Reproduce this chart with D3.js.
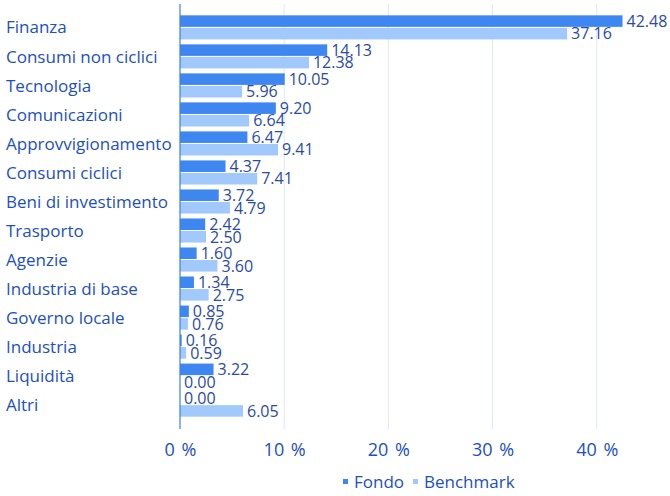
<!doctype html>
<html>
  <head>
    <meta charset="utf-8">
    <title>Settori</title>
    <script src="https://cdnjs.cloudflare.com/ajax/libs/d3/7.8.5/d3.min.js"></script>
    <style>
      body { margin: 0; background: #fff; }
      text { font-family: "Open Sans", sans-serif; }
    </style>
  </head>
  <body>
    <div id="chart"></div>
    <script>
      // data
      const categories = ['Finanza', 'Consumi non ciclici', 'Tecnologia', 'Comunicazioni',
        'Approvvigionamento', 'Consumi ciclici', 'Beni di investimento', 'Trasporto',
        'Agenzie', 'Industria di base', 'Governo locale', 'Industria', 'Liquidità', 'Altri']
      const fondo = [42.48, 14.13, 10.05, 9.20, 6.47, 4.37, 3.72, 2.42, 1.60, 1.34, 0.85, 0.16, 3.22, 0.00]
      const benchmark = [37.16, 12.38, 5.96, 6.64, 9.41, 7.41, 4.79, 2.50, 3.60, 2.75, 0.76, 0.59, 0.00, 6.05]
      const seriesNames = ['Fondo', 'Benchmark']
      const ticks = [0, 10, 20, 30, 40]

      const colors = ['#3f87f0', '#a2c9fb']
      const labelColor = '#1c4fc2'
      const valueColor = '#2a4aa6'

      const svg = d3.select('#chart').append('svg')
        .attr('width', 670)
        .attr('height', 496)

      const x = d3.scaleLinear().domain([0, 40]).range([180, 596.7])
      const y = d3.scaleBand().domain(categories).range([13, 419]).paddingInner(0.17).paddingOuter(0.08)
      const ySub = d3.scaleBand().domain(seriesNames).range([0, y.bandwidth()]).paddingInner(0.08)

      // grid
      svg.append('g').selectAll('line')
        .data(ticks.slice(1))
        .join('line')
        .attr('x1', d => x(d)).attr('x2', d => x(d))
        .attr('y1', 4).attr('y2', 429)
        .attr('stroke', '#dce8fb')
        .attr('stroke-width', 1)

      // x axis labels
      const xAxis = d3.axisBottom(x).tickValues(ticks).tickSize(0).tickFormat(d => d + ' %')
      svg.append('g')
        .attr('transform', 'translate(0,440)')
        .call(xAxis)
        .call(g => g.select('.domain').remove())
        .selectAll('text')
        .attr('fill', labelColor)
        .style('font-size', '18px')
        .style('word-spacing', '2px')

      // bars
      const groups = svg.append('g').selectAll('g')
        .data(categories)
        .join('g')
        .attr('transform', d => `translate(0,${y(d)})`)

      const rows = groups.selectAll('g')
        .data((d, i) => [{ s: 'Fondo', v: fondo[i] }, { s: 'Benchmark', v: benchmark[i] }])
        .join('g')

      rows.append('rect')
        .attr('x', x(0))
        .attr('y', d => ySub(d.s))
        .attr('width', d => x(d.v) - x(0))
        .attr('height', ySub.bandwidth())
        .attr('fill', (d, i) => colors[i])

      rows.append('text')
        .attr('x', d => x(d.v) + 4)
        .attr('y', d => ySub(d.s) + ySub.bandwidth() / 2)
        .attr('dy', '0.36em')
        .attr('fill', valueColor)
        .style('font-size', '16px')
        .text(d => d.v.toFixed(2))

      // category labels
      svg.append('g').selectAll('text')
        .data(categories)
        .join('text')
        .attr('x', 6)
        .attr('y', d => y(d) + y.bandwidth() / 2)
        .attr('dy', '0.36em')
        .attr('fill', labelColor)
        .style('font-size', '17px')
        .text(d => d)

      // y axis line
      svg.append('line')
        .attr('x1', x(0)).attr('x2', x(0))
        .attr('y1', 4).attr('y2', 429)
        .attr('stroke', '#3f7fe6')
        .attr('stroke-width', 1.2)

      // legend
      const legend = svg.append('g').attr('transform', 'translate(343,482)')
      const items = legend.selectAll('g')
        .data(seriesNames)
        .join('g')
        .attr('transform', (d, i) => `translate(${i * 70},0)`)
      items.append('rect')
        .attr('x', 0).attr('y', -3)
        .attr('width', 5).attr('height', 5)
        .attr('fill', (d, i) => colors[i])
      items.append('text')
        .attr('x', 11)
        .attr('y', 0)
        .attr('dy', '0.36em')
        .attr('fill', labelColor)
        .style('font-size', '17px')
        .text(d => d)
    </script>
  </body>
</html>
